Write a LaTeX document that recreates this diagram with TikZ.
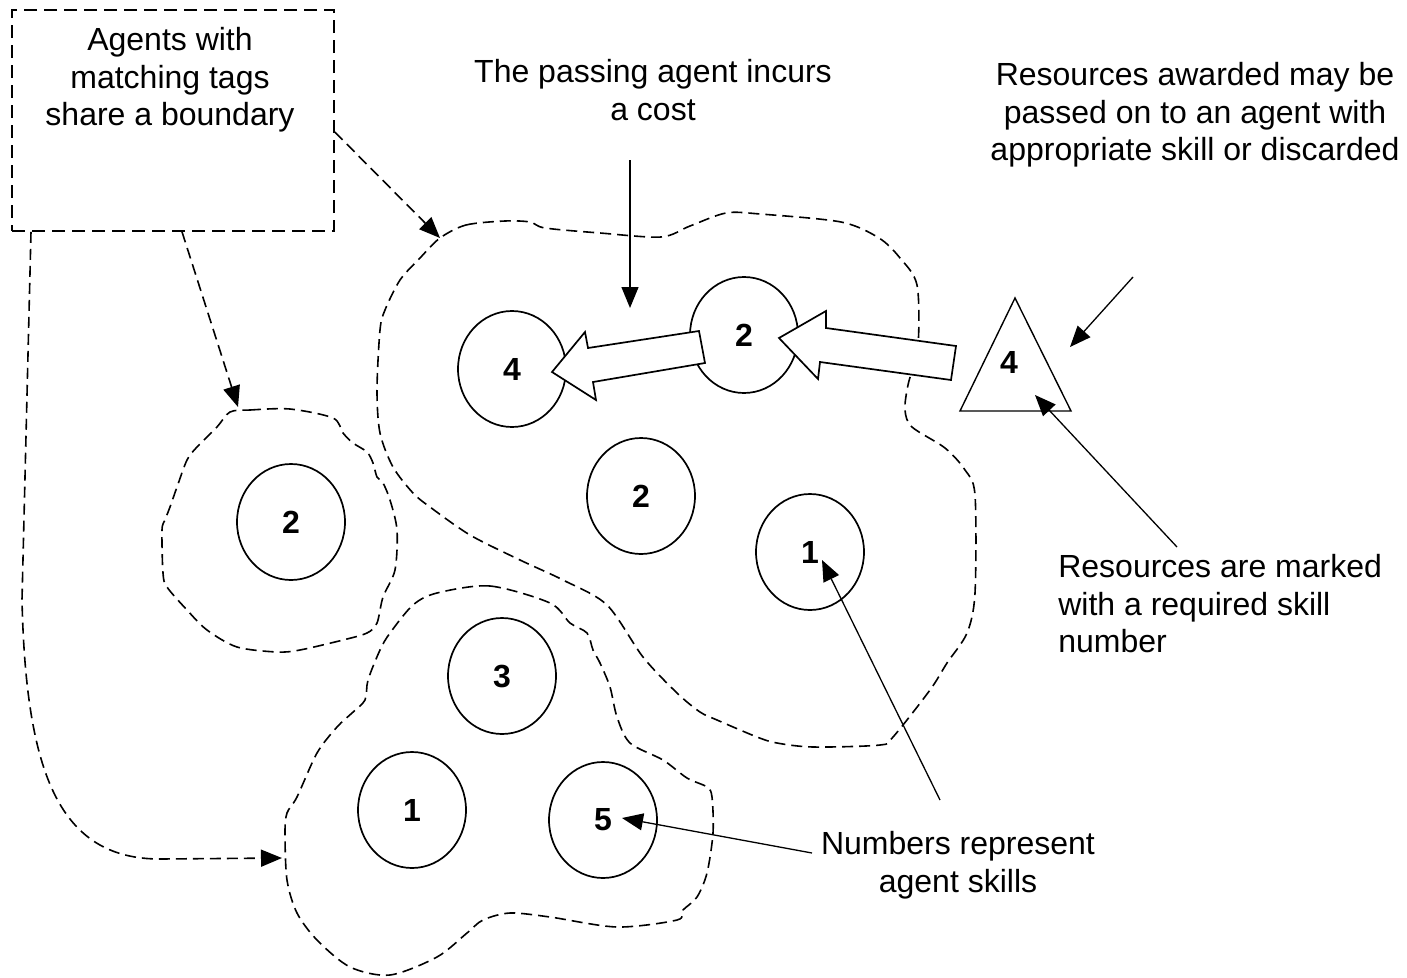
\documentclass[tikz,border=0pt]{standalone}
\usepackage{fontspec}
\setmainfont{Liberation Sans}
\usetikzlibrary{arrows.meta, shapes.geometric}

\begin{document}
\begin{tikzpicture}[
            x = 1pt, y = -1pt, % pixel units, y down
            > = {Triangle[length=21pt, width=17pt]}, % arrow head style
            semithick % line style
        ]

        \tikzstyle{agent}=[
            draw = black,
            line width = 1.7pt,
            ellipse,
            minimum width = 108pt,
            minimum height = 116pt,
            inner sep = 0pt,
            font = \fontsize{32}{36}\selectfont\bfseries
        ]
        \tikzstyle{note}=[align = center, inner sep = 0pt, font = \fontsize{32}{37.5}\selectfont]
        \tikzstyle{boundary}=[draw = black, line width = 1.6pt, dash pattern = on 11pt off 6pt]
        \tikzstyle{pass}=[draw = black, fill = white, line width = 1.7pt]
        \tikzstyle{pointer}=[->, line width = 1.3pt]

        \useasboundingbox (0,0) rectangle (1407,977);

        % tag groups
        \draw[boundary] plot[smooth cycle, tension=0.5] coordinates {
            (440,238) (466,225) (505,221) (530,222) (545,228) (600,233) (661,237)
            (690,226) (726,213) (760,214) (841,222) (879,238) (900,258) (917,285)
            (918,345) (908,385) (905,410) (912,427) (945,448) (965,470) (975,495)
            (975,593) (967,633) (947,663) (930,690) (893,737) (880,745) (813,747)
            (777,743) (757,737) (717,720) (700,712) (677,693) (643,657) (607,605)
            (563,580) (520,560) (470,535) (430,507) (413,493) (393,467) (380,433)
            (377,390) (380,330) (385,310) (400,280) (420,258)};
        \draw[boundary] plot[smooth cycle, tension=0.5] coordinates {
            (230,412) (250,410) (290,409) (333,418) (343,433) (353,443) (367,452)
            (373,463) (377,477) (383,483) (390,500) (397,530) (395,570) (383,597)
            (377,623) (367,633) (343,640) (300,650) (277,652) (237,647) (207,630)
            (187,610) (167,587) (163,573) (162,530) (165,520) (170,507) (177,487)
            (187,460) (197,447) (217,427)};
        \draw[boundary] plot[smooth cycle, tension=0.5] coordinates {
            (437,593) (490,586) (550,603) (570,623) (587,633) (593,650) (600,663)
            (610,687) (617,717) (630,743) (663,760) (687,778) (707,787) (712,797)
            (713,833) (707,873) (697,897) (683,910) (677,920) (617,927) (550,917)
            (510,913) (483,920) (467,933) (437,957) (390,975) (350,967) (317,940)
            (297,913) (287,880) (285,833) (287,813) (297,797) (317,753) (337,727)
            (352,713) (365,700) (368,680) (380,650) (390,633) (413,605)};

        % agents
        \node[agent] (a4) at (512,369) {4};
        \node[agent] (a2top) at (744,335) {2};
        \node[agent] (a2mid) at (641,496) {2};
        \node[agent] (a1right) at (810,552) {1};
        \node[agent] (a2left) at (291,522) {2};
        \node[agent] (a3) at (502,676) {3};
        \node[agent] (a1low) at (412,810) {1};
        \node[agent] (a5) at (603,820) {5};

        % passing the resource on
        \draw[pass] (956,346) -- (826,328) -- (826,311) -- (779,338)
            -- (818,379) -- (820,362) -- (951,380) -- cycle;
        \draw[pass] (699,331) -- (588,348) -- (585,332) -- (552,372)
            -- (596,400) -- (593,382) -- (705,363) -- cycle;

        % resource
        \draw[line width = 1.4pt] (1015,298) -- (960,411) -- (1071,411) -- cycle;
        \node[font = \fontsize{32}{36}\selectfont\bfseries] (res) at (1009,362) {4};

        % notes
        \node[draw, line width = 1.6pt, dash pattern = on 13pt off 7pt,
            minimum width = 322pt, minimum height = 221pt, inner sep = 0pt] (tagbox) at (173,120.5) {};
        \node[note] (tagnote) at (170,80) {Agents with\\matching tags\\share a boundary};
        \node[note] (costnote) at (653,90) {The passing agent incurs\\a cost};
        \node[note] (awardnote) at (1195,115) {Resources awarded may be\\passed on to an agent with\\appropriate skill or discarded};
        \node[note, align = left, anchor = west] (marknote) at (1058,604) {Resources are marked\\with a required skill\\number};
        \node[note] (skillnote) at (958,865) {Numbers represent\\agent skills};

        \coordinate (bigtop) at (440,238);
        \coordinate (smalltop) at (238,407);
        \coordinate (lowleft) at (282,858);
        \coordinate (costtip) at (630,308);
        \coordinate (costtail) at (630,160);
        \coordinate (awardtail) at (1133,277);
        \coordinate (awardtip) at (1070,347);
        \coordinate (marktail) at (1177,547);
        \coordinate (marktip) at (1035,395);
        \coordinate (skilltail) at (940,800);
        \coordinate (skilltip) at (822,560);
        \coordinate (fivetail) at (812,853);
        \coordinate (fivetip) at (622,818);

        % dashed pointers to boundaries
        \draw[boundary, ->] ([yshift=-11.5pt]tagbox.east) -- (bigtop);
        \draw[boundary, ->] ([xshift=9pt]tagbox.south) -- (smalltop);
        \draw[boundary, ->] ([xshift=-142pt]tagbox.south) -- (22,600)
            .. controls (26,775) and (60,859) .. (160,859) -- (lowleft);

        % solid pointers
        \draw[pointer] (costtail) -- (costtip);
        \draw[pointer] (awardtail) -- (awardtip);
        \draw[pointer] (marktail) -- (marktip);
        \draw[pointer] (skilltail) -- (skilltip);
        \draw[pointer] (fivetail) -- (fivetip);
    \end{tikzpicture}
\end{document}
